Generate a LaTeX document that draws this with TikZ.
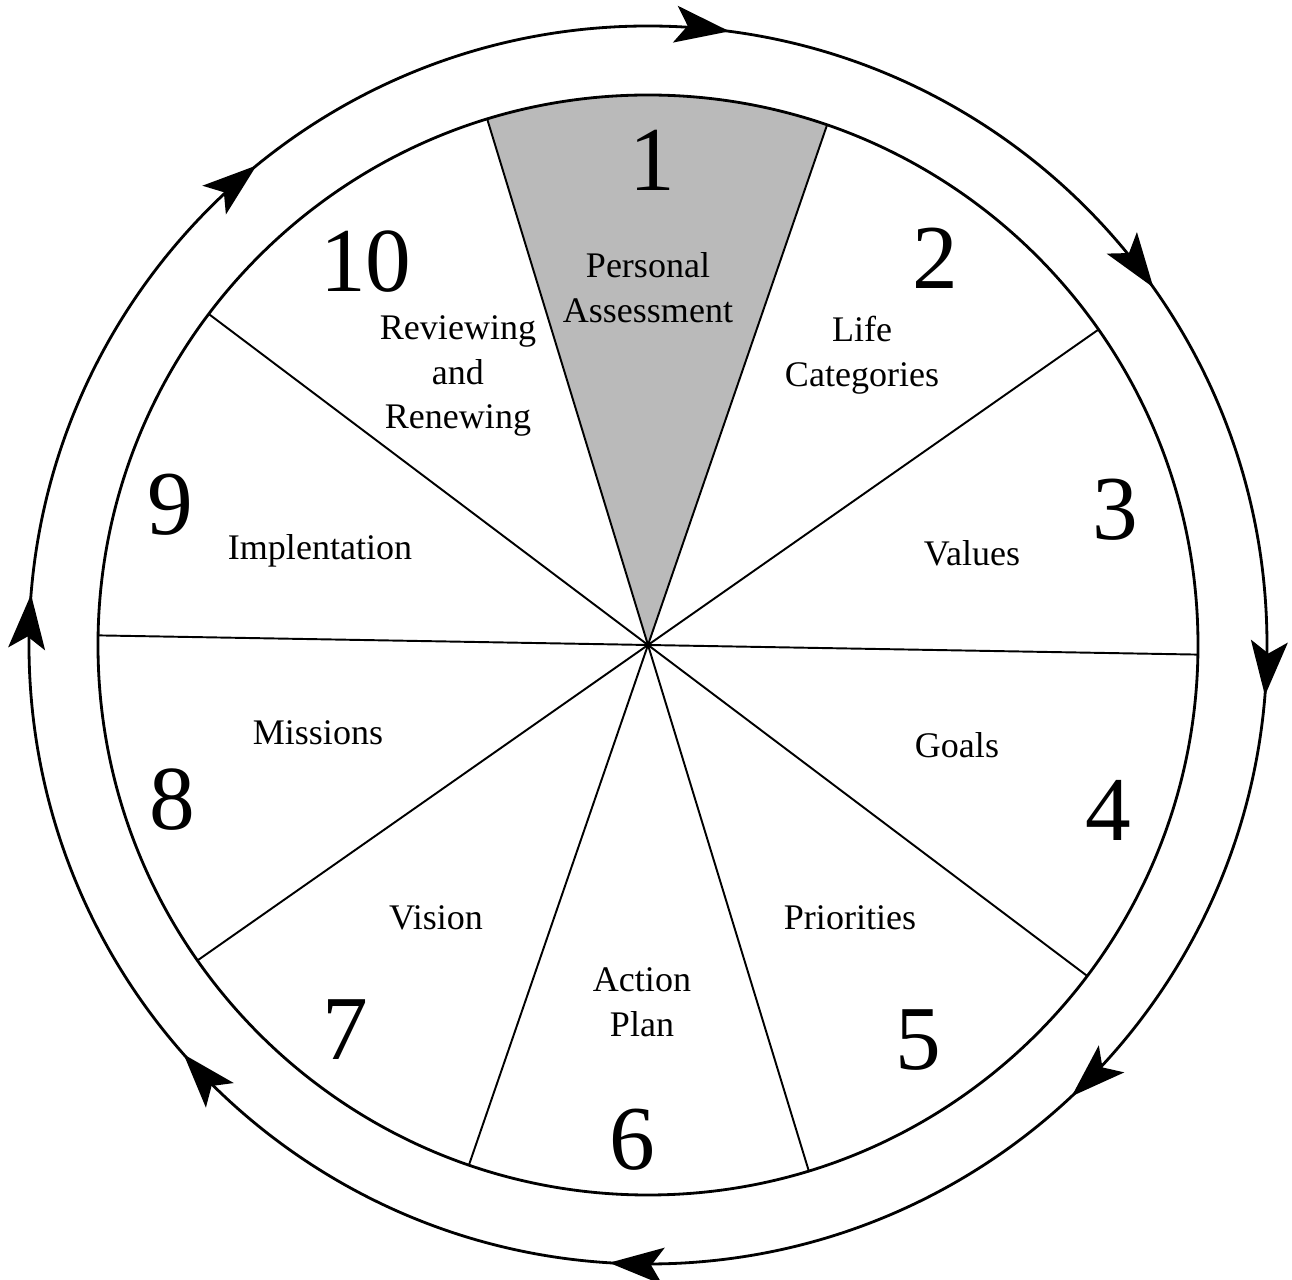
\documentclass[tikz,border=0pt]{standalone}
\usepackage{fontspec}
\setmainfont{Liberation Serif}
\usetikzlibrary{
  arrows.meta,
  decorations.markings
}
\tikzset{
  flowtip/.tip={Stealth[length=31pt,width=21pt,inset=7pt]}
}

\begin{document}
\begin{tikzpicture}[
    % Escala: 1 unidade = 1 pixel da figura
    x=0.02cm, y=0.02cm,
    % Linhas da roda
    wheelline/.style={
        line width=1.6pt,
        draw=black
    },
    divider/.style={
        line width=1.1pt,
        draw=black
    },
    % Setor destacado
    sectorfill/.style={
        fill=black!27
    },
    % Anel externo com setas
    ring/.style={
        line width=1.6pt,
        draw=black
    },
    % Textos
    numlabel/.style={
        font=\fontsize{52}{56}\selectfont,
        inner sep=0pt
    },
    steplabel/.style={
        font=\fontsize{20.5}{25.5}\selectfont,
        align=center,
        inner sep=0pt
    },
]

\useasboundingbox (-648,-635) rectangle (644,645);

% ============================================================================
% Roda: setor 1 em cinza, divisores e contorno
% ============================================================================

\fill[sectorfill] (0,0) -- (71:550) arc[start angle=71, end angle=107, radius=550] -- cycle;

\foreach \a in {-1,35,...,323}
    \draw[divider] (0,0) -- (\a:550);

\draw[wheelline] (0,0) circle[radius=550];

% ============================================================================
% Anel externo (sentido horario)
% ============================================================================

\draw[ring,
    decoration={markings,
        mark=at position 0.021 with {\arrow{flowtip}},
        mark=at position 0.152 with {\arrow{flowtip}},
        mark=at position 0.263 with {\arrow{flowtip}},
        mark=at position 0.380 with {\arrow{flowtip}},
        mark=at position 0.510 with {\arrow{flowtip}},
        mark=at position 0.635 with {\arrow{flowtip}},
        mark=at position 0.763 with {\arrow{flowtip}},
        mark=at position 0.891 with {\arrow{flowtip}}},
    postaction=decorate]
    (90:619) arc[start angle=90, end angle=-270, radius=619];

% ============================================================================
% Numeros das etapas
% ============================================================================

\node[numlabel] (n1) at (4,485) {1};
\node[numlabel] (n2) at (287,387) {2};
\node[numlabel] (n3) at (467,135) {3};
\node[numlabel] (n4) at (460,-165) {4};
\node[numlabel] (n5) at (270,-395) {5};
\node[numlabel] (n6) at (-16,-495) {6};
\node[numlabel] (n7) at (-303,-385) {7};
\node[numlabel] (n8) at (-476,-155) {8};
\node[numlabel] (n9) at (-478,140) {9};
\node[numlabel] (n10) at (-282,383) {10};

% ============================================================================
% Nomes das etapas
% ============================================================================

\node[steplabel] (t1) at (0,357) {Personal\\Assessment};
\node[steplabel] (t2) at (214,290) {Life\\Categories};
\node[steplabel] (t3) at (324,92) {Values};
\node[steplabel] (t4) at (309,-100) {Goals};
\node[steplabel] (t5) at (202,-273) {Priorities};
\node[steplabel] (t6) at (-6,-357) {Action\\Plan};
\node[steplabel] (t7) at (-212,-273) {Vision};
\node[steplabel] (t8) at (-330,-88) {Missions};
\node[steplabel] (t9) at (-328,94) {Implentation};
\node[steplabel] (t10) at (-190,269) {Reviewing\\and\\Renewing};

\end{tikzpicture}
\end{document}
